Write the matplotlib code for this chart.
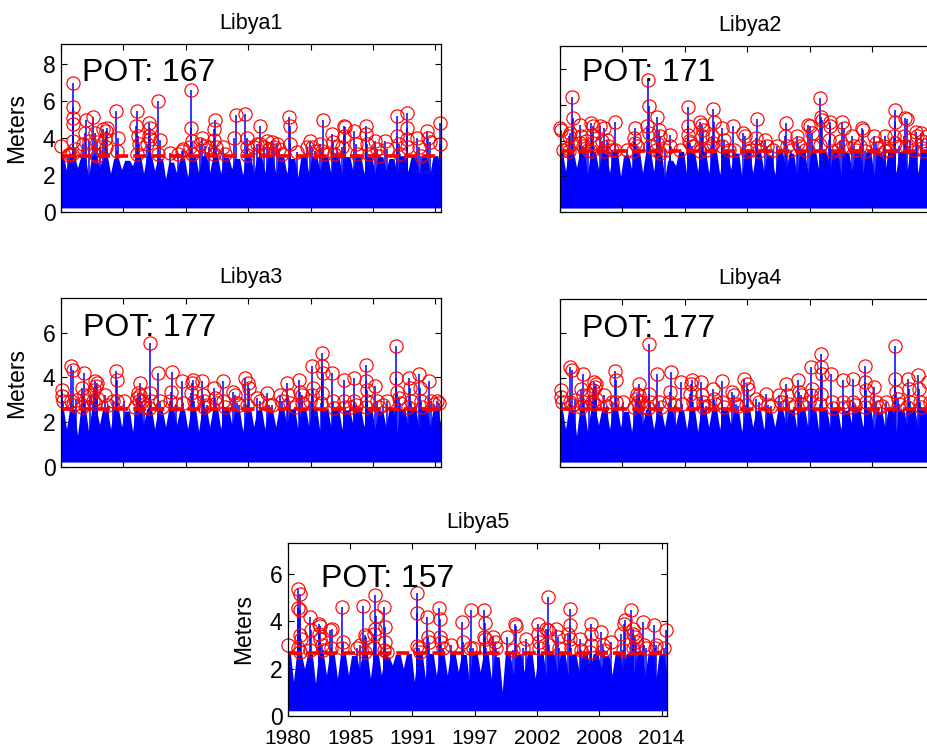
import matplotlib
matplotlib.use('Agg')
import matplotlib.pyplot as plt
import numpy as np

plt.rcParams['font.family'] = ['Liberation Sans', 'DejaVu Sans']

# ---------------- data ----------------
titles = ['Libya1', 'Libya2', 'Libya3', 'Libya4', 'Libya5']
pot_counts = [167, 171, 177, 177, 157]
thresholds = [3.05, 3.4, 2.6, 2.6, 2.64]
ylims = [9.1, 9.3, 7.55, 7.55, 7.3]
yticks_list = [[0, 2, 4, 6, 8], [0, 2, 4, 6, 8], [0, 2, 4, 6], [0, 2, 4, 6], [0, 2, 4, 6]]
tick_years = [1980.0, 1985.667, 1991.333, 1997.0, 2002.667, 2008.333, 2014.0]
tick_labels = ['1980', '1985', '1991', '1997', '2002', '2008', '2014']
x_range = [1980.0, 2014.5]
season_years = list(range(1980, 2015))
base_level = 0.22

# winter (Jan) and summer (Jul) upper envelope of the hourly series, per year
w1 = [3.05, 3.05, 3.0, 3.05, 3.0, 2.9, 2.8, 3.05, 3.05, 2.9, 2.7, 2.9, 3.0, 3.05, 3.05, 2.95, 2.9, 3.05,
      3.0, 3.05, 3.0, 2.9, 3.0, 3.05, 3.0, 3.05, 3.0, 3.05, 3.0, 3.0, 2.9, 3.05, 3.0, 3.05, 3.05]
s1 = [2.25, 2.4, 1.9, 2.4, 2.1, 2.3, 2.5, 2.1, 2.25, 1.8, 2.1, 1.9, 2.1, 2.15, 2.1, 2.35, 2.0, 2.1,
      2.15, 2.1, 2.1, 1.9, 2.1, 2.25, 2.1, 2.1, 2.25, 2.1, 2.1, 2.25, 2.1, 2.2, 2.1, 2.1, 2.0]
w2 = [3.4, 3.4, 3.35, 3.4, 3.3, 3.4, 3.2, 3.4, 3.4, 3.3, 2.9, 3.4, 3.4, 3.4, 3.35, 3.4, 3.3, 3.4,
      3.35, 3.2, 3.4, 3.3, 3.4, 3.4, 3.4, 3.4, 3.35, 3.4, 3.4, 3.35, 3.4, 3.4, 3.4, 3.4, 3.4]
s2 = [2.3, 2.5, 2.1, 2.4, 2.2, 2.0, 2.4, 2.2, 2.3, 1.9, 2.6, 2.1, 2.3, 2.2, 2.1, 2.4, 2.0, 2.2,
      2.3, 2.1, 2.2, 2.0, 2.2, 2.3, 2.2, 2.1, 2.3, 2.2, 2.1, 2.3, 2.2, 2.3, 2.2, 2.1, 2.1]
w3 = [2.6, 2.6, 2.6, 2.55, 2.6, 2.6, 2.5, 2.6, 2.6, 2.5, 2.6, 2.55, 2.6, 2.6, 2.6, 2.6, 2.5, 2.6,
      2.55, 2.5, 2.6, 2.6, 2.6, 2.6, 2.6, 2.6, 2.55, 2.6, 2.6, 2.5, 2.6, 2.6, 2.6, 2.6, 2.6]
s3 = [1.7, 1.4, 1.6, 1.9, 1.7, 1.8, 1.6, 1.9, 1.7, 1.8, 1.9, 1.7, 1.6, 1.8, 1.7, 1.9, 1.6, 1.8,
      1.7, 1.8, 1.9, 1.7, 1.8, 1.6, 1.8, 1.7, 1.9, 1.8, 1.7, 1.8, 1.6, 1.8, 1.7, 1.8, 1.8]
w5 = [2.64, 2.64, 2.6, 2.64, 2.6, 2.64, 2.55, 2.64, 2.64, 2.5, 2.6, 2.64, 2.64, 2.64, 2.6, 2.64, 2.6, 2.64,
      2.64, 2.5, 2.64, 2.6, 2.64, 2.64, 2.64, 2.64, 2.6, 2.64, 2.64, 2.55, 2.64, 2.64, 2.64, 2.64, 2.64]
s5 = [1.45, 2.0, 1.38, 1.73, 1.59, 1.73, 2.0, 1.59, 1.73, 2.15, 2.0, 1.45, 1.59, 1.73, 1.73, 1.87, 1.45, 1.87,
      1.59, 1.03, 1.73, 1.87, 1.59, 1.73, 1.87, 1.73, 1.87, 2.0, 2.0, 1.73, 1.87, 1.87, 1.73, 1.59, 1.73]

# peaks over threshold: (decimal year, significant wave height in m)
peaks1 = [(1980.0, 3.6), (1980.65, 3.1), (1981.0, 3.15), (1981.1, 6.97), (1981.05, 5.67), (1981.1, 5.07),
          (1981.05, 4.75), (1981.1, 3.86), (1981.25, 3.41), (1980.85, 3.15), (1982.0, 3.68), (1982.2, 4.3),
          (1982.3, 4.96), (1982.5, 3.86), (1982.95, 5.14), (1983.1, 4.3), (1983.25, 3.77), (1983.1, 3.15),
          (1983.85, 4.48), (1984.1, 4.39), (1984.15, 4.57), (1984.0, 3.95), (1984.1, 3.5), (1983.55, 3.5),
          (1983.25, 3.05), (1985.0, 5.46), (1985.2, 4.0), (1985.05, 3.32), (1986.9, 5.46), (1986.85, 4.66),
          (1986.95, 4.12), (1987.05, 3.68), (1986.9, 3.15), (1987.95, 4.84), (1988.05, 4.57), (1987.95, 4.12),
          (1988.1, 3.95), (1987.8, 3.68), (1988.85, 5.99), (1988.95, 3.9), (1988.85, 3.15), (1989.9, 3.18),
          (1990.65, 3.15), (1990.95, 3.3), (1991.1, 3.41), (1991.8, 6.61), (1991.8, 4.57), (1991.85, 3.86),
          (1991.7, 3.5), (1991.85, 3.15), (1992.65, 3.68), (1992.8, 4.0), (1993.1, 3.6), (1993.4, 3.5),
          (1993.85, 4.48), (1994.0, 5.0), (1993.85, 3.9), (1994.1, 3.5), (1993.85, 3.15), (1994.75, 3.5),
          (1994.9, 3.15), (1995.7, 4.0), (1995.9, 5.28), (1996.75, 5.3), (1996.9, 4.0), (1996.85, 3.5),
          (1996.9, 3.1), (1997.5, 3.5), (1997.8, 3.68), (1998.1, 4.66), (1998.1, 3.68), (1998.4, 3.5),
          (1998.7, 3.86), (1998.85, 3.41), (1999.15, 3.77), (1999.3, 3.5), (1999.6, 3.68), (1999.75, 3.41),
          (2000.05, 3.15), (2000.7, 5.14), (2000.8, 4.66), (2000.8, 3.68), (2001.45, 3.24), (2002.35, 3.5),
          (2002.65, 3.86), (2002.8, 3.5), (2003.1, 3.32), (2003.55, 3.68), (2003.8, 5.0), (2003.7, 3.32),
          (2003.85, 3.15), (2004.6, 4.2), (2004.7, 3.77), (2004.75, 3.15), (2005.05, 3.5), (2005.65, 4.66),
          (2005.75, 4.6), (2005.5, 3.5), (2005.65, 4.12), (2006.6, 4.4), (2006.75, 3.68), (2006.9, 3.15),
          (2007.65, 4.66), (2007.65, 4.2), (2007.8, 3.68), (2007.95, 3.15), (2008.55, 3.86), (2008.7, 3.41),
          (2008.85, 3.05), (2009.45, 3.86), (2009.6, 3.41), (2010.5, 5.2), (2010.5, 4.12), (2010.65, 3.68),
          (2010.8, 3.15), (2011.45, 5.37), (2011.4, 4.57), (2011.45, 3.95), (2011.4, 3.5), (2012.3, 4.0),
          (2012.5, 3.5), (2012.65, 3.05), (2013.2, 4.4), (2013.35, 4.0), (2013.5, 3.77), (2014.4, 4.84),
          (2014.4, 3.68)]

peaks2 = [(1980.0, 4.7), (1980.05, 4.57), (1981.05, 6.47), (1981.2, 5.26), (1980.9, 4.42), (1980.85, 4.24),
          (1981.05, 3.86), (1980.75, 3.58), (1980.85, 3.4), (1981.8, 4.89), (1981.95, 4.24), (1981.8, 3.86),
          (1982.1, 3.67), (1982.4, 4.0), (1982.85, 4.98), (1983.0, 4.8), (1982.95, 4.33), (1983.0, 3.86),
          (1982.85, 3.4), (1983.65, 4.8), (1983.95, 4.7), (1983.8, 4.0), (1983.95, 3.4), (1984.25, 4.05),
          (1984.4, 3.67), (1985.0, 5.07), (1985.0, 3.5), (1986.8, 4.7), (1986.7, 4.14), (1986.8, 3.86),
          (1986.95, 3.67), (1986.65, 3.4), (1987.95, 7.4), (1988.05, 5.95), (1987.9, 4.8), (1988.05, 4.42),
          (1988.15, 3.67), (1988.8, 5.35), (1988.95, 4.6), (1989.1, 4.24), (1988.8, 3.86), (1988.75, 3.5),
          (1989.05, 3.3), (1990.0, 4.33), (1990.0, 3.67), (1991.65, 5.9), (1991.65, 4.8), (1991.65, 4.33),
          (1991.75, 3.95), (1991.8, 3.86), (1991.95, 3.67), (1992.7, 5.07), (1992.85, 4.9), (1992.85, 4.24),
          (1992.7, 3.4), (1992.95, 4.6), (1993.85, 5.75), (1993.95, 5.07), (1993.8, 4.24), (1993.9, 3.86),
          (1993.7, 3.67), (1994.7, 4.7), (1994.85, 4.05), (1994.7, 3.67), (1995.75, 4.8), (1995.8, 3.5),
          (1996.6, 4.42), (1996.8, 4.24), (1996.95, 3.4), (1997.9, 5.2), (1997.75, 4.14), (1997.9, 3.67),
          (1998.05, 3.4), (1998.65, 4.05), (1998.8, 3.67), (1999.7, 3.67), (2000.55, 4.98), (2000.45, 4.24),
          (2000.6, 3.67), (2001.5, 4.27), (2001.65, 3.86), (2001.8, 3.67), (2002.55, 4.89), (2002.7, 4.8),
          (2002.85, 4.42), (2003.0, 3.67), (2003.65, 6.38), (2003.7, 5.35), (2003.8, 5.17), (2003.65, 3.77),
          (2004.5, 5.07), (2004.55, 4.8), (2004.45, 4.05), (2004.65, 3.4), (2005.6, 5.02), (2005.75, 4.7),
          (2005.45, 3.95), (2005.7, 3.67), (2006.5, 4.24), (2006.65, 3.67), (2007.4, 4.7), (2007.55, 4.6),
          (2007.25, 3.67), (2007.7, 3.4), (2008.5, 4.24), (2008.65, 3.86), (2008.8, 3.58), (2009.55, 4.24),
          (2009.4, 3.67), (2009.55, 3.4), (2010.4, 5.73), (2010.45, 5.07), (2010.3, 4.24), (2010.45, 3.86),
          (2010.75, 3.67), (2011.35, 5.26), (2011.5, 5.2), (2011.2, 4.24), (2011.45, 3.67), (2011.8, 4.05),
          (2012.3, 4.5), (2012.45, 4.24), (2012.75, 4.42), (2012.9, 3.95), (2013.05, 3.4), (2013.35, 4.24),
          (1980.3, 3.45), (1982.55, 3.45), (1984.7, 3.45), (1986.1, 3.45), (1989.55, 3.45), (1990.9, 3.45),
          (1993.3, 3.5), (1995.3, 3.45), (1997.3, 3.45), (1999.3, 3.45), (2000.95, 3.45), (2002.25, 3.45),
          (2005.2, 3.45), (2006.9, 3.45), (2009.9, 3.45), (2012.1, 3.45)]

peaks3 = [(1980.05, 3.45), (1980.1, 3.15), (1980.2, 2.93), (1980.9, 4.49), (1981.05, 4.34), (1980.9, 2.93),
          (1981.1, 2.78), (1981.35, 3.0), (1981.9, 3.52), (1982.1, 4.19), (1982.05, 3.22), (1982.2, 2.93),
          (1981.9, 2.7), (1982.65, 3.22), (1982.95, 2.93), (1983.1, 3.82), (1983.25, 3.74), (1983.2, 3.6),
          (1983.0, 3.45), (1983.25, 3.07), (1983.1, 2.85), (1984.0, 3.22), (1984.75, 2.93), (1985.0, 4.3),
          (1985.05, 3.9), (1985.05, 2.93), (1985.7, 2.93), (1986.9, 3.07), (1986.95, 3.3), (1987.05, 2.93),
          (1987.2, 3.74), (1987.2, 3.22), (1987.35, 2.93), (1987.5, 2.7), (1986.75, 2.7), (1988.05, 5.53),
          (1988.1, 3.3), (1988.15, 2.93), (1987.95, 2.63), (1988.85, 4.19), (1988.95, 2.93), (1990.05, 4.26),
          (1989.95, 3.37), (1989.9, 2.93), (1990.95, 3.82), (1991.1, 2.85), (1991.9, 3.74), (1992.0, 3.9),
          (1991.8, 3.3), (1992.05, 2.93), (1992.8, 3.82), (1992.9, 3.22), (1992.95, 2.93), (1993.0, 2.7),
          (1993.85, 3.52), (1994.0, 3.07), (1994.1, 2.85), (1994.7, 3.85), (1994.75, 2.93), (1994.9, 2.7),
          (1995.65, 3.37), (1995.8, 3.22), (1995.95, 2.85), (1996.7, 3.97), (1997.0, 3.74), (1997.1, 3.52),
          (1996.85, 2.78), (1997.8, 3.07), (1998.1, 2.93), (1998.7, 3.3), (1998.85, 2.78), (1999.9, 3.22),
          (2000.05, 2.93), (2000.5, 3.74), (2000.65, 3.22), (2000.8, 2.85), (2001.65, 3.9), (2001.7, 3.37),
          (2001.85, 3.22), (2001.85, 2.85), (2002.65, 2.93), (2002.8, 3.22), (2002.85, 3.52), (2002.8, 4.49),
          (2003.7, 5.08), (2003.7, 4.49), (2003.8, 4.19), (2003.7, 3.3), (2003.65, 2.85), (2004.6, 4.19),
          (2004.7, 2.93), (2004.75, 2.63), (2005.65, 3.9), (2005.65, 2.93), (2005.8, 2.7), (2006.6, 3.97),
          (2006.6, 2.93), (2006.75, 2.78), (2007.65, 4.56), (2007.65, 3.82), (2007.75, 3.45), (2007.8, 2.93),
          (2007.65, 2.7), (2008.55, 3.6), (2008.7, 2.93), (2008.85, 2.7), (2009.6, 2.93), (2010.45, 5.42),
          (2010.45, 3.97), (2010.5, 3.37), (2010.65, 3.07), (2010.8, 2.85), (2011.6, 3.97), (2011.7, 3.52),
          (2011.75, 2.93), (2011.5, 2.7), (2012.5, 4.15), (2012.6, 3.52), (2012.65, 2.93), (2012.8, 2.7),
          (2013.4, 3.82), (2013.55, 2.93), (2014.15, 2.93), (2014.3, 2.85), (1984.3, 2.75), (1989.2, 2.7),
          (1990.4, 2.8), (1993.3, 2.75), (1996.2, 2.75), (1999.2, 2.75), (2001.2, 2.7), (2006.2, 2.7),
          (2009.2, 2.75), (2013.9, 2.8)]

# Libya4 reads the same as Libya3 in the picture
peaks4 = list(peaks3)
w4 = list(w3)
s4 = list(s3)

peaks5 = [(1980.0, 2.99), (1980.95, 5.34), (1981.05, 5.16), (1980.95, 4.55), (1981.05, 4.49), (1981.1, 3.41),
          (1981.15, 3.27), (1980.95, 2.85), (1981.1, 2.7), (1982.0, 4.18), (1982.05, 3.65), (1982.0, 2.78),
          (1982.85, 3.9), (1982.95, 3.8), (1982.85, 3.48), (1982.9, 3.27), (1983.05, 2.99), (1983.2, 2.78),
          (1983.8, 3.61), (1984.05, 3.68), (1983.9, 2.85), (1984.95, 4.6), (1985.0, 3.13), (1984.9, 2.85),
          (1986.25, 2.85), (1986.55, 2.99), (1986.85, 4.65), (1987.0, 3.41), (1987.1, 3.34), (1987.0, 2.71),
          (1987.9, 5.11), (1988.0, 4.24), (1987.9, 3.68), (1987.8, 3.48), (1987.8, 2.85), (1988.75, 4.6),
          (1988.85, 3.75), (1988.85, 3.13), (1988.7, 2.78), (1989.0, 2.71), (1991.7, 5.2), (1991.7, 4.35),
          (1991.75, 2.96), (1991.95, 2.85), (1992.05, 2.71), (1992.65, 4.18), (1992.75, 3.34), (1992.8, 3.13),
          (1993.75, 4.55), (1993.8, 4.1), (1993.85, 3.34), (1993.95, 3.13), (1994.1, 2.85), (1994.8, 2.99),
          (1995.8, 3.97), (1995.95, 3.13), (1996.7, 4.46), (1996.55, 2.85), (1996.8, 2.85), (1997.8, 4.46),
          (1997.9, 3.93), (1997.8, 3.34), (1997.9, 3.27), (1998.05, 2.85), (1998.65, 3.34), (1998.8, 3.13),
          (1998.9, 2.85), (1999.9, 3.34), (2000.65, 3.9), (2000.75, 3.8), (2000.5, 2.78), (2001.4, 2.85),
          (2001.7, 3.27), (2002.75, 3.9), (2002.75, 3.48), (2002.85, 3.13), (2002.85, 2.85), (2003.65, 5.03),
          (2003.5, 3.68), (2003.65, 3.61), (2003.75, 2.99), (2004.4, 3.68), (2004.55, 3.34), (2004.7, 2.85),
          (2005.65, 4.53), (2005.65, 3.85), (2005.5, 3.48), (2005.65, 3.27), (2005.8, 2.85), (2006.55, 3.27),
          (2006.7, 2.78), (2007.6, 3.9), (2007.6, 3.48), (2007.6, 2.99), (2007.5, 2.71), (2008.5, 3.54),
          (2008.65, 2.99), (2008.8, 2.78), (2009.4, 3.13), (2010.35, 3.48), (2010.45, 2.78), (2010.55, 3.9),
          (2010.65, 4.04), (2011.25, 4.46), (2011.4, 3.68), (2011.45, 3.48), (2011.55, 3.34), (2011.7, 3.13),
          (2011.4, 2.85), (2012.3, 3.97), (2012.45, 2.99), (2012.6, 2.85), (2013.35, 3.83), (2013.5, 2.99),
          (2013.45, 2.85), (2014.4, 3.61), (2014.25, 2.85)]

peaks_all = [peaks1, peaks2, peaks3, peaks4, peaks5]
winters = [w1, w2, w3, w4, w5]
summers = [s1, s2, s3, s4, s5]

# ---------------- layout / style ----------------
W, H = 928, 753
fig = plt.figure(figsize=(W / 100, H / 100), dpi=100)


def px_axes(left, top, right, bottom):
    return [left / W, 1 - bottom / H, (right - left) / W, (bottom - top) / H]


positions = [px_axes(61, 44, 441, 212), px_axes(560, 46, 940, 212),
             px_axes(61, 298, 441, 467), px_axes(560, 299, 940, 467),
             px_axes(288, 543, 667, 716)]
text_pos = [(0.055, 0.83), (0.058, 0.84), (0.058, 0.82), (0.058, 0.82), (0.087, 0.79)]
show_ylabels = [True, False, True, False, True]
BLUE = '#0000ff'
RED = '#ff0000'
TICK_FS = 16.5
XTICK_FS = 15
TITLE_FS = 15.5

for i in range(5):
    ax = fig.add_axes(positions[i])
    yrs = np.array(season_years, dtype=float)
    # envelope nodes: broad winter plateau, narrow trough in mid-year
    ex = np.ravel(np.column_stack([yrs - 0.22, yrs + 0.22, yrs + 0.5]))
    ey = np.ravel(np.column_stack([winters[i], winters[i], summers[i]]))
    ax.fill_between(ex, base_level, ey, color=BLUE, lw=0, zorder=1)

    px, py = zip(*peaks_all[i])
    ax.vlines(px, base_level, py, color=BLUE, lw=1.1, zorder=2)
    ax.axhline(thresholds[i], color=RED, lw=2.6, dashes=(3.6, 1.4), zorder=3)
    ax.plot(px, py, 'o', mfc='none', mec=RED, ms=9.5, mew=0.85, zorder=4, clip_on=False)

    ax.set_xlim(*x_range)
    ax.set_ylim(0, ylims[i])
    ax.set_xticks(tick_years)
    ax.set_yticks(yticks_list[i])
    ax.tick_params(direction='in', top=True, right=True, length=4, width=0.8,
                   labelsize=TICK_FS, pad=4)
    if i == 4:
        ax.set_xticklabels(tick_labels)
        ax.tick_params(axis='x', pad=9.6, labelsize=XTICK_FS)
    else:
        ax.set_xticklabels([])
    if not show_ylabels[i]:
        ax.set_yticklabels([])
    else:
        ax.set_ylabel('Meters', fontsize=16.5)
        ax.yaxis.set_label_coords(-0.086, 0.5)
    for sp in ax.spines.values():
        sp.set_linewidth(0.9)
        sp.set_zorder(5)
    ax.set_title(titles[i], fontsize=TITLE_FS, pad=11)
    ax.text(text_pos[i][0], text_pos[i][1], 'POT: %d' % pot_counts[i], transform=ax.transAxes,
            fontsize=23, ha='left', va='center', zorder=6)

fig.savefig('out.png', dpi=100)
